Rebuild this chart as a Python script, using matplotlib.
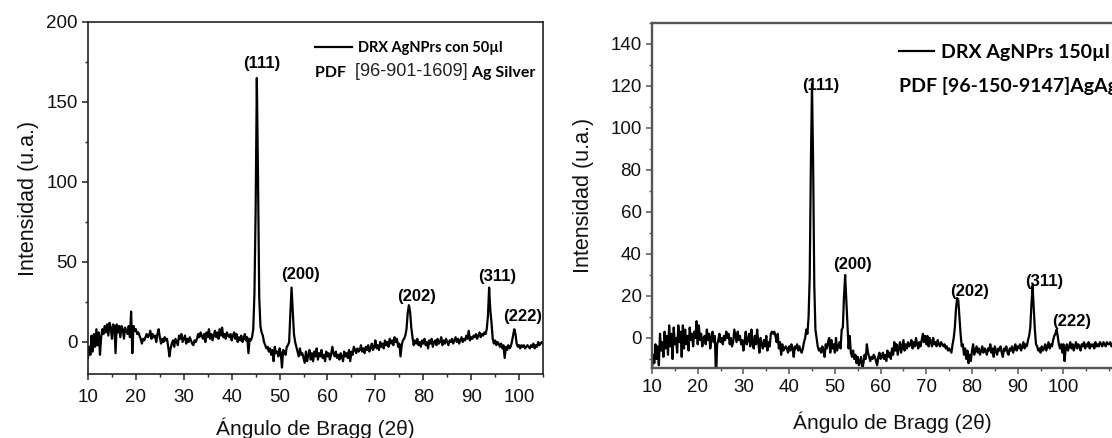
import numpy as np
import matplotlib.pyplot as plt
from matplotlib.ticker import MultipleLocator

plt.rcParams['font.family'] = ['Liberation Sans', 'DejaVu Sans']

# 2theta sampled every 0.25 deg, starting at 10 deg
step = 0.25

# Left: AgNPrs con 50 ul (10 -> 105 deg)
inten_50 = [
    -10, -3, -8, 4, -6, 5, -3, 8, -2, 6, -8, 3, 8, 5, 10, 6,          # 10-14
    11, 4, 12, 9, 2, 11, 10, -7, 11, 6, 10, 3, 10, 8, 2, 9,          # 14-18
    7, 5, 10, 3, 19, -7, 10, 7, 8, 5, 6, 4, 2, -1, 2, 1,             # 18-22
    3, 5, 3, 4, 7, 2, 5, 3, 4, 0, 5, 8, 3, -1, 2, 0,                 # 22-26
    3, 1, 2, -3, -9, -4, -1, 1, -3, 2, 0, -2, 4, 2, 5, 0,            # 26-30
    2, 4, -1, 2, 0, 3, 1, -1, -2, 1, 0, 2, 5, 3, 6, 4,               # 30-34
    2, 5, 0, 6, 3, 8, 2, 5, 1, 4, 7, 3, 6, 2, 8, 4,                  # 34-38
    9, 3, 5, 2, 6, 4, 3, 5, 1, 4, 6, 2, 5, 0, 3, 1,                  # 38-42
    4, 0, 2, 5, 1, 3, -7, 2, 1, 3, 8, 30, 82, 165, 102, 28,          # 42-46
    10, 6, 4, 0, -2, -4, -3, -6, -4, -8, -5, -12, -3, -7, -6, -9,    # 46-50
    -4, -7, -16, -5, -6, -8, -3, -2, 0, 18, 34, 19, 5, 0, -3, -6,    # 50-54
    -9, -4, -8, -7, -10, -13, -6, -12, -8, -5, -11, -7, -12, -6, -9, -4,   # 54-58
    -11, -7, -9, -5, -10, -8, -12, -6, -9, -7, -11, -8, -3, -7, -9, -6,    # 58-62
    -10, -8, -11, -7, -9, -12, -6, -9, -7, -10, -5, -12, -6, -8, -3, -5,   # 62-66
    -7, -4, -6, -5, -2, -6, -4, -7, -3, -5, -2, -6, -4, -1, -5, -3,  # 66-70
    1, -4, -2, -5, 0, -3, -1, -4, 1, -2, 0, -3, 2, -1, 1, -2,        # 70-74
    3, 0, 2, -3, -1, -9, -2, 1, 2, 4, 8, 18, 23, 19, 9, 3,           # 74-78
    -2, 1, -1, 2, -2, 0, -3, 1, -1, 2, -2, 0, -4, 1, -1, 2,          # 78-82
    -3, 0, 1, -2, 2, -1, 0, 3, -2, 1, -1, 2, 0, -2, 1, 0,            # 82-86
    2, -1, 1, 3, 0, 2, -1, 1, 3, 0, 2, 1, 4, 2, 7, 1,                # 86-90
    3, 2, 4, 3, 5, 2, 4, 6, 3, 5, 4, 6, 5, 8, 16, 34,                # 90-94
    20, 12, 2, -1, 1, -2, 0, -1, -3, -1, -4, -2, -10, -3, -5, -2,    # 94-98
    -4, -3, 0, 4, 8, 5, -1, -3, -2, -4, -2, -3, -2, -4, -3, -2,      # 98-102
    -3, -4, -2, -3, -1, -4, -2, -3, 0, -2, -1, 0, -1,                # 102-105
]

# Right: AgNPrs 150 ul (10 -> 111 deg)
inten_150 = [
    -15, -8, -12, -3, -10, -4, -13, 2, -6, -2, -9, 3, -5, 1, -8, 6,  # 10-14
    -4, 2, -10, 5, -3, 0, -7, 6, -2, 3, -9, 6, -5, 4, -3, 1,         # 14-18
    -6, 5, -1, 2, -4, 3, 0, 8, -3, 6, -1, 2, -4, 0, 1, -3,           # 18-22
    4, -1, 2, -5, 0, 3, -2, 1, -20, -3, -1, 2, -2, 0, -3, 1,         # 22-26
    -1, 3, 0, 2, -3, 0, -4, -2, 4, 1, -2, 3, -1, 1, -3, -1,          # 26-30
    -6, -2, 3, -3, -1, 2, -4, 4, -2, -5, 1, -3, 4, -2, -7, 0,        # 30-34
    -3, -5, -1, -4, 1, -6, -2, -4, 2, 3, 2, 3, 1, -2, 2, -5,         # 34-38
    -2, -8, -3, -6, -5, -4, -5, -7, -4, -6, -3, -5, -9, -4, -5, -3,  # 38-42
    -6, -4, -6, -7, -5, -2, 0, 4, 2, 10, 29, 82, 121, 83, 25, 4,     # 42-46
    0, -4, -6, -5, -7, -4, -6, -9, -3, -5, -2, 0, -7, -1, -5, -3,    # 46-50
    -7, 0, -6, -4, -2, -5, 4, 5, 20, 30, 18, 5, -5, 1, -7, -9,       # 50-54
    -6, -10, -8, -12, -9, -13, -11, -9, -15, -12, -8, -10, -3, -7, -9, -11,  # 54-58
    -9, -10, -8, -9, -11, -13, -9, -7, -10, -9, -7, -10, -8, -11, -6, -9,    # 58-62
    -7, -10, -5, -8, -2, -6, -3, -8, -5, -2, -7, -4, -1, -6, -3, -5, # 62-66
    -2, -4, -3, -1, -5, -2, -4, 0, -3, -5, -2, -4, -1, 2, -2, 1,     # 66-70
    -3, 1, -4, 0, -2, -4, 0, -3, -2, -4, -1, -3, -4, -2, -3, -4,     # 70-74
    -3, -5, -4, -6, -5, -6, -7, -3, 0, 5, 14, 19, 18, 10, 2, -4,     # 74-78
    -3, -8, -5, -10, -6, -12, -8, -11, -6, -3, -8, -6, -4, -7, -5, -8,   # 78-82
    -6, -4, -7, -5, -6, -8, -5, -6, -3, -7, -5, -9, -4, -6, -8, -5,  # 82-86
    -6, -4, -7, -9, -5, -6, -4, -7, -8, -5, -6, -4, -7, -5, -3, -6,  # 86-90
    -4, -5, -3, -6, -4, -2, -5, -3, -4, -1, 1, 5, 16, 25, 14, 4,     # 90-94
    -3, -4, -6, -5, -7, -4, -6, -5, -3, -6, -4, -2, -5, -3, -4, -1,  # 94-98
    1, 2, 4, 1, -3, -5, -3, -7, -3, -11, -5, -3, -6, -4, -2, -5,     # 98-102
    -3, -6, -4, -2, -5, -3, -4, -6, -3, -4, -2, -5, -3, -4, -2, -5,  # 102-106
    -3, -4, -3, -5, -2, -4, -3, -4, -2, -3, -4, -2, -3, -4, -2, -3,  # 106-110
    -3, -2, -4, -3, -2,                                              # 110-111
]

peaks = ['(111)', '(200)', '(202)', '(311)', '(222)']
# label anchors (2theta, intensity)
peak_pos_50 = [(46.2, 174), (54.4, 42), (78.6, 28.6), (95.4, 41), (100.7, 16)]
peak_pos_150 = [(47.0, 120), (53.9, 34.8), (79.4, 22.1), (95.8, 26.9), (101.8, 7.9)]

tt_50 = 10 + step * np.arange(len(inten_50))
tt_150 = 10 + step * np.arange(len(inten_150))

fig = plt.figure(figsize=(11.12, 4.38), dpi=100)
ax1 = fig.add_axes([88 / 1112, 1 - 374 / 438, 455 / 1112, 352 / 438])
ax2 = fig.add_axes([652 / 1112, 1 - 368 / 438, 480 / 1112, 345 / 438])

ax1.plot(tt_50, inten_50, color='black', lw=1.6)
ax2.plot(tt_150, inten_150, color='black', lw=1.6)

ax1.set_xlim(10, 105)
ax1.set_ylim(-20, 200)
ax1.xaxis.set_major_locator(MultipleLocator(10))
ax1.xaxis.set_minor_locator(MultipleLocator(5))
ax1.yaxis.set_major_locator(MultipleLocator(50))
ax1.yaxis.set_minor_locator(MultipleLocator(25))

ax2.set_xlim(10, 115)
ax2.set_ylim(-14.3, 150)
ax2.set_xticks(np.arange(10, 101, 10))
ax2.xaxis.set_minor_locator(MultipleLocator(5))
ax2.yaxis.set_major_locator(MultipleLocator(20))
ax2.yaxis.set_minor_locator(MultipleLocator(10))

# (axis, spine colour, spine width, x pad, xlabel pad, ylabel pad)
styles = [(ax1, '#222222', 1.2, 7, 8, 5), (ax2, '#555555', 1.7, 4, 11, 12)]
for ax, col, lw, xpad, xlp, ylp in styles:
    for sp in ax.spines.values():
        sp.set_color(col)
        sp.set_linewidth(lw)
    ax.tick_params(which='major', direction='out', length=4, width=1.1,
                   colors=col, labelcolor='#111111', labelsize=13.5)
    ax.tick_params(which='minor', direction='out', length=2.5, width=1.0, colors=col)
    ax.tick_params(axis='x', which='major', pad=xpad)
    ax.set_xlabel('Ángulo de Bragg (2θ)', fontsize=15, color='#111111', labelpad=xlp)
    ax.set_ylabel('Intensidad (u.a.)', fontsize=15.5, color='#111111', labelpad=ylp)

for ax, pos in [(ax1, peak_pos_50), (ax2, peak_pos_150)]:
    for lab, (px, py) in zip(peaks, pos):
        ax.text(px, py, lab, ha='center', va='center', fontsize=12,
                fontweight='bold', clip_on=False)

leg_small = {'family': 'Lato', 'weight': 'bold', 'size': 10.5}
leg_big = {'family': 'Lato', 'weight': 'bold', 'size': 14}

ax1.lines[0].set_label('DRX AgNPrs con 50µl')
ax1.legend(loc='center left', bbox_to_anchor=(0.499, 0.927), frameon=False,
           prop=leg_small, handlelength=2.5, handletextpad=0.45,
           borderpad=0, borderaxespad=0)
t = ax1.text(0.499, 0.835, 'PDF ', transform=ax1.transAxes,
             ha='left', va='bottom', family='Lato', fontweight='bold', fontsize=11.5)
t = ax1.annotate(' [96-901-1609]', xy=(1, 0), xycoords=t, va='bottom',
                 fontsize=13, color='#222222')
ax1.annotate(' Ag Silver', xy=(1, 0), xycoords=t, va='bottom',
             family='Lato', fontweight='bold', fontsize=11.5)

ax2.lines[0].set_label('DRX AgNPrs 150µl')
ax2.legend(loc='center left', bbox_to_anchor=(0.514, 0.915), frameon=False,
           prop=leg_big, handlelength=1.8, handletextpad=0.35,
           borderpad=0, borderaxespad=0)
ax2.text(0.514, 0.817, 'PDF [96-150-9147]AgAg', transform=ax2.transAxes,
         ha='left', va='center', family='Lato', fontweight='bold', fontsize=14)

fig.savefig('out.png', dpi=100)
